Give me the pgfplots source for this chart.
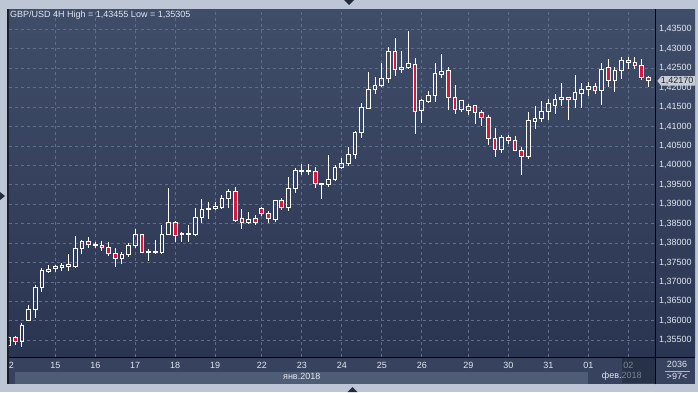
\documentclass[border=0pt]{standalone}
\usepackage{pgfplots}
\usepackage{pgfplotstable}
\pgfplotsset{compat=1.18}
\usepackage{fontspec}
\setmainfont{Liberation Sans}

\definecolor{bgtop}{RGB}{64,77,104}
\definecolor{bgbot}{RGB}{42,53,82}
\definecolor{framec}{RGB}{188,198,212}
\definecolor{gridc}{RGB}{95,110,140}
\definecolor{candlered}{RGB}{222,20,58}
\definecolor{txt}{RGB}{226,231,240}
\definecolor{daterow}{RGB}{54,66,94}
\definecolor{monthband}{RGB}{78,92,118}
\definecolor{darkline}{RGB}{24,29,42}
\definecolor{tagc}{RGB}{200,204,212}
\definecolor{tagtxt}{RGB}{36,40,52}
\definecolor{hilite}{RGB}{26,33,52}
\definecolor{trig}{RGB}{36,42,58}

\pgfplotstableread{
i o h l c
1 1.35361 1.35611 1.35305 1.35577
2 1.35577 1.35611 1.35379 1.35474
3 1.35464 1.35937 1.35335 1.35886
4 1.36022 1.36400 1.35996 1.36297
5 1.36297 1.36922 1.36081 1.36863
6 1.36863 1.37352 1.36735 1.37308
7 1.37275 1.37437 1.37239 1.37326
8 1.37352 1.37445 1.37265 1.37404
9 1.37368 1.37481 1.37290 1.37419
10 1.37393 1.37720 1.37290 1.37445
11 1.37393 1.38183 1.37380 1.37867
12 1.37856 1.38080 1.37720 1.38029
13 1.38029 1.38150 1.37882 1.37969
14 1.37926 1.38036 1.37882 1.37977
15 1.37944 1.38054 1.37805 1.37882
16 1.37892 1.38029 1.37676 1.37728
17 1.37738 1.37867 1.37393 1.37599
18 1.37599 1.37771 1.37470 1.37712
19 1.37702 1.37995 1.37650 1.37944
20 1.37933 1.38363 1.37867 1.38227
21 1.38227 1.38240 1.37738 1.37764
22 1.37771 1.37841 1.37548 1.37789
23 1.37764 1.38072 1.37720 1.37779
24 1.37753 1.38466 1.37738 1.38227
25 1.38227 1.39425 1.38201 1.38535
26 1.38535 1.38577 1.38029 1.38201
27 1.38216 1.38278 1.38036 1.38242
28 1.38227 1.38466 1.38029 1.38242
29 1.38216 1.38895 1.38191 1.38664
30 1.38664 1.39135 1.38525 1.38870
31 1.38870 1.39058 1.38628 1.38903
32 1.38885 1.39058 1.38859 1.38929
33 1.38921 1.39238 1.38870 1.39153
34 1.39135 1.39392 1.38911 1.39322
35 1.39340 1.39436 1.38551 1.38594
36 1.38638 1.38870 1.38363 1.38525
37 1.38525 1.38800 1.38492 1.38612
38 1.38638 1.38715 1.38466 1.38525
39 1.38895 1.38937 1.38710 1.38757
40 1.38767 1.38818 1.38525 1.38628
41 1.38620 1.39098 1.38543 1.39098
42 1.39098 1.39160 1.38852 1.38921
43 1.38911 1.39701 1.38834 1.39410
44 1.39400 1.39924 1.39297 1.39873
45 1.39837 1.40035 1.39760 1.39873
46 1.39847 1.40035 1.39760 1.39873
47 1.39847 1.39950 1.39410 1.39539
48 1.39503 1.39546 1.39142 1.39546
49 1.39503 1.40267 1.39436 1.39641
50 1.39631 1.40002 1.39598 1.39953
51 1.39945 1.40189 1.39914 1.40053
52 1.40043 1.40472 1.39991 1.40284
53 1.40284 1.40884 1.40171 1.40850
54 1.40840 1.41604 1.40712 1.41493
55 1.41475 1.42402 1.41450 1.41956
56 1.41956 1.42273 1.41836 1.42059
57 1.42049 1.42641 1.42023 1.42239
58 1.42239 1.43045 1.42119 1.42934
59 1.42934 1.43276 1.42306 1.42471
60 1.42471 1.42942 1.42384 1.42522
61 1.42512 1.43455 1.42497 1.42607
62 1.42600 1.42754 1.40814 1.41391
63 1.41416 1.41715 1.41097 1.41656
64 1.41638 1.41913 1.41596 1.41784
65 1.41792 1.42633 1.41638 1.42350
66 1.42332 1.42864 1.42255 1.42419
67 1.42445 1.42530 1.41432 1.41740
68 1.41751 1.42067 1.41329 1.41432
69 1.41432 1.41681 1.41380 1.41656
70 1.41406 1.41578 1.41303 1.41519
71 1.41545 1.41545 1.41072 1.41355
72 1.41365 1.41424 1.41012 1.41226
73 1.41236 1.41288 1.40524 1.40696
74 1.40696 1.40953 1.40223 1.40403
75 1.40403 1.40773 1.40326 1.40722
76 1.40722 1.40789 1.40557 1.40645
77 1.40645 1.40748 1.40362 1.40387
78 1.40387 1.40465 1.39760 1.40223
79 1.40223 1.41373 1.40171 1.41141
80 1.41133 1.41519 1.40935 1.41211
81 1.41211 1.41656 1.41115 1.41391
82 1.41391 1.41699 1.41174 1.41596
83 1.41545 1.41828 1.41329 1.41699
84 1.41699 1.42119 1.41527 1.41758
85 1.41758 1.41758 1.41174 1.41689
86 1.41699 1.42324 1.41483 1.41861
87 1.41854 1.42119 1.41475 1.41956
88 1.41956 1.42152 1.41776 1.42041
89 1.42041 1.42126 1.41836 1.41931
90 1.41920 1.42641 1.41560 1.42471
91 1.42522 1.42736 1.42016 1.42178
92 1.42178 1.42530 1.41879 1.42445
93 1.42445 1.42780 1.42229 1.42702
94 1.42702 1.42780 1.42486 1.42651
95 1.42651 1.42780 1.42479 1.42574
96 1.42574 1.42744 1.42203 1.42265
97 1.42265 1.42299 1.42008 1.42170
}\candles

\begin{document}
\begin{tikzpicture}[x=1bp,y=1bp,font=\fontsize{9bp}{10.5bp}\selectfont]
% frame and panels
\fill[framec] (0,0) rectangle (698,392);
\fill[darkline] (6.7,7.6) rectangle (695,383.2);
\shade[top color=bgtop,bottom color=bgbot] (655.3,35) rectangle (695,382.5);
\fill[daterow] (9,8.5) rectangle (695,35);
\fill[monthband] (15,8.5) rectangle (588.3,20);

\begin{axis}[
  at={(9bp,35bp)}, anchor=south west, scale only axis,
  width=646.3bp, height=347.5bp,
  xmin=1.054, xmax=98.05, ymin=1.350704, ymax=1.44009,
  axis background/.style={shade, top color=bgtop, bottom color=bgbot},
  axis line style={draw=none},
  major tick length=0pt,
  xtick={8,14,20,26,32,39,45,51,57,63,70,76,82,88,94},
  xticklabels={15,16,17,18,19,22,23,24,25,26,29,30,31,01,02},
  ytick={1.355,1.360,1.365,1.370,1.375,1.380,1.385,1.390,1.395,1.400,1.405,1.410,1.415,1.420,1.425,1.430,1.435},
  yticklabel pos=right,
  scaled y ticks=false,
  grid=major,
  major grid style={draw=gridc, dash pattern=on 3bp off 3bp, line width=0.8bp},
  tick label style={font=\fontsize{9bp}{10.5bp}\selectfont, text=txt},
  xticklabel style={anchor=center, yshift=-8.5bp},
  yticklabel style={anchor=west, inner sep=0pt, xshift=3.7bp},
  /pgf/number format/fixed,
  /pgf/number format/fixed zerofill,
  /pgf/number format/precision=5,
  /pgf/number format/use comma,
  /pgf/number format/assume math mode=true,
]
% upper wicks
\addplot[draw=none, mark=none, forget plot,
  error bars/.cd, y dir=plus, y explicit, error mark=none,
  error bar style={draw=white, solid, line width=1bp}]
  table[x=i, y expr={max(\thisrow{o},\thisrow{c})},
        y error expr={\thisrow{h}-max(\thisrow{o},\thisrow{c})}] {\candles};
% lower wicks
\addplot[draw=none, mark=none, forget plot,
  error bars/.cd, y dir=minus, y explicit, error mark=none,
  error bar style={draw=white, solid, line width=1bp}]
  table[x=i, y expr={min(\thisrow{o},\thisrow{c})},
        y error expr={min(\thisrow{o},\thisrow{c})-\thisrow{l}}] {\candles};
\end{axis}

\begin{axis}[
  at={(9bp,35bp)}, anchor=south west, scale only axis,
  width=646.3bp, height=347.5bp,
  xmin=1.054, xmax=98.05, ymin=1.350704, ymax=1.44009,
  hide axis, ybar stacked, bar width=3.7bp,
]
\addplot[draw=none, fill=none]
  table[x=i, y expr={min(\thisrow{o},\thisrow{c})}] {\candles};
\addplot[draw=white, fill=none, line width=1bp]
  table[x=i, y expr={(1-(\thisrow{c}<\thisrow{o}))*(\thisrow{c}-\thisrow{o})}] {\candles};
\addplot[draw=white, fill=candlered, line width=1bp]
  table[x=i, y expr={(\thisrow{c}<\thisrow{o})*(\thisrow{o}-\thisrow{c})}] {\candles};
\end{axis}

% separator lines
\draw[black, line width=1bp] (9,35) -- (695,35);
\draw[black, line width=1bp] (655.3,7.6) -- (655.3,382.5);

% title
\node[anchor=west, inner sep=0pt, text=txt] at (10,377) {GBP/USD 4H High = 1,43455 Low = 1,35305};

% partial first date label
\node[text=txt, inner sep=0pt] at (11.35,26.5) {2};

% month labels
\node[text=txt, inner sep=0pt] at (301.7,15.4) {янв.2018};
\node[text=txt, inner sep=0pt] at (621.7,15.4) {фев.2018};
\fill[hilite, opacity=0.5] (621.7,8.7) rectangle (654.8,34.5);

% bottom right cell
\node[text=txt, inner sep=0pt] at (677,27.3) {2036};
\draw[txt!70!daterow, line width=0.6bp] (665,21) -- (690,21);
\node[text=txt, inner sep=0pt] at (677,15.2) {>97<};

% current price tag
\fill[tagc] (657.3,311) -- (661.3,316) -- (695,316) -- (695,306.3) -- (661.3,306.3) -- cycle;
\node[anchor=west, inner sep=0pt, text=tagtxt] at (660.7,311.1) {1,42170};

% UI triangles
\fill[trig] (344,392) -- (354,392) -- (349,387) -- cycle;
\fill[trig] (347.5,0) -- (357.5,0) -- (352.5,5) -- cycle;
\fill[trig] (0,200) -- (0,192) -- (5,196) -- cycle;

\pgfresetboundingbox
\path[use as bounding box] (0,0) rectangle (698,392);
\end{tikzpicture}
\end{document}
